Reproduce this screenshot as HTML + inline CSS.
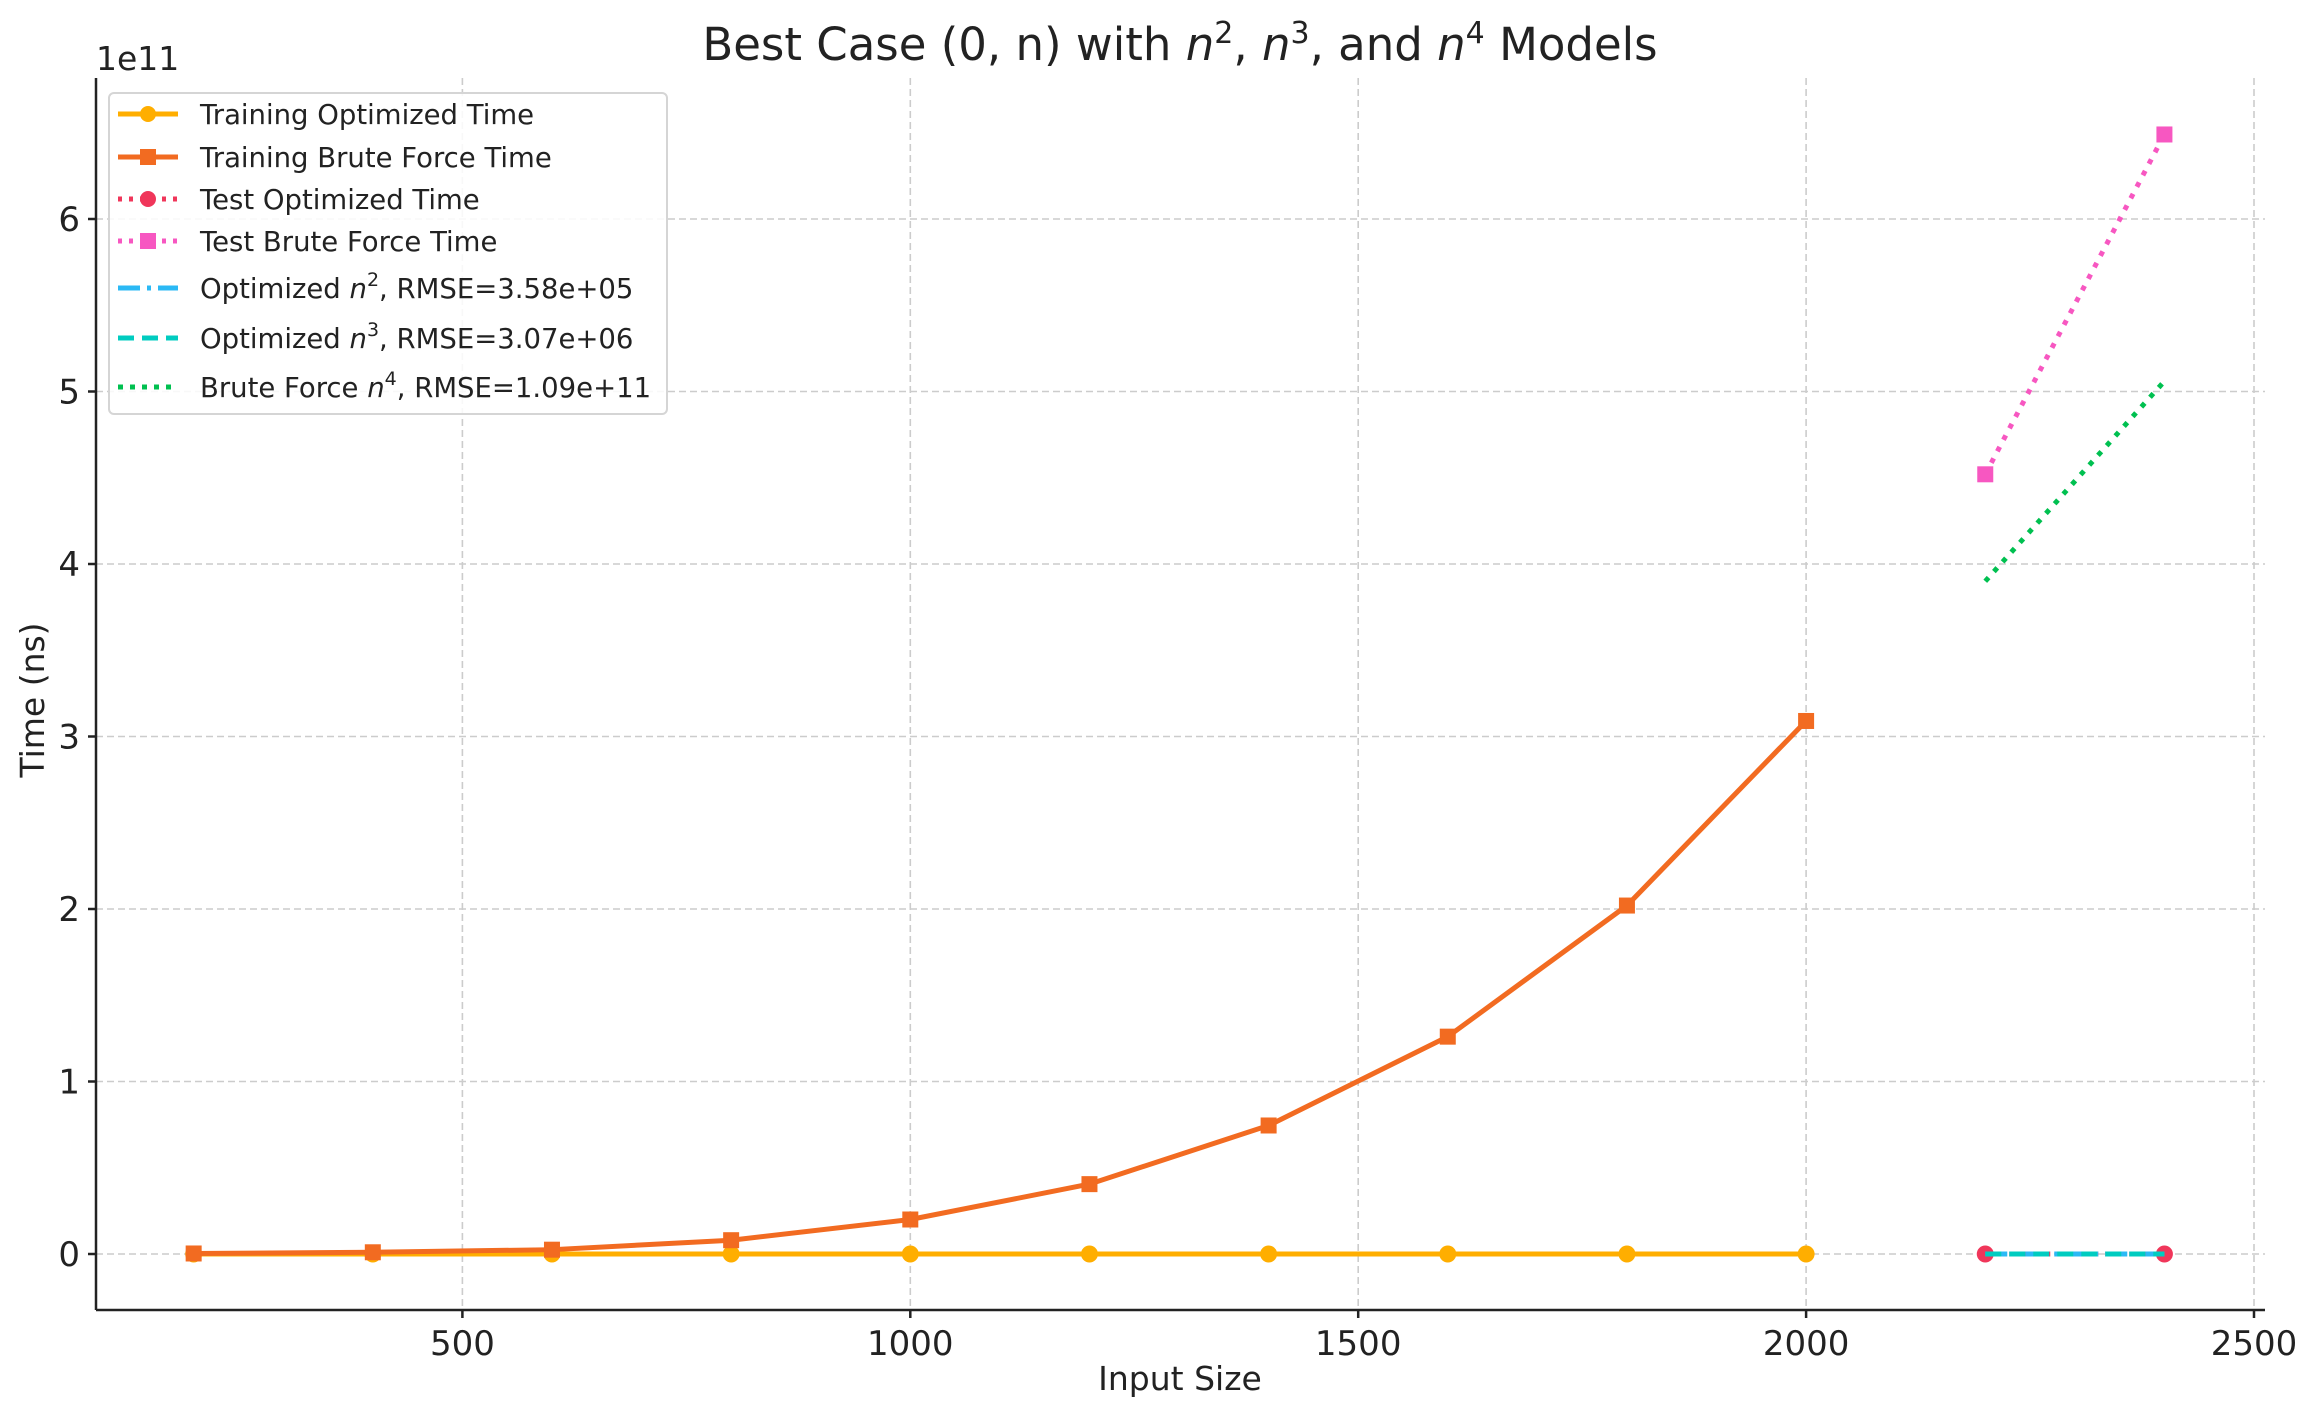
<!DOCTYPE html>
<html><head><meta charset="utf-8"><style>
body{margin:0;background:#fff}
svg text{font-family:"DejaVu Sans","Liberation Sans",sans-serif;fill:#222}
</style></head><body>
<svg id="chart" width="2318" height="1417" viewBox="0 0 2318 1417" xmlns="http://www.w3.org/2000/svg">
<rect width="2318" height="1417" fill="#fff"/>
<g id="grid"></g>
<g id="series"></g>
<g id="axes"></g>
<text x="1180" y="60" text-anchor="middle" font-size="45">Best Case (0, n) with <tspan font-style="italic">n</tspan><tspan font-size="30" dy="-17">2</tspan><tspan dy="17">, </tspan><tspan font-style="italic">n</tspan><tspan font-size="30" dy="-17">3</tspan><tspan dy="17">, and </tspan><tspan font-style="italic">n</tspan><tspan font-size="30" dy="-17">4</tspan><tspan dy="17"> Models</tspan></text>
<text x="96" y="70" font-size="33">1e11</text>
<text x="1180" y="1390" text-anchor="middle" font-size="33">Input Size</text>
<text transform="translate(44,700) rotate(-90)" text-anchor="middle" font-size="33">Time (ns)</text>
<g id="legend"></g>
</svg>
<script>
const trainX=[200,400,600,800,1000,1200,1400,1600,1800,2000];
const trainOpt=[0,0,0,0,0,0,0,0,0,0];
const trainBrute=[0.003,0.01,0.025,0.08,0.2,0.405,0.745,1.26,2.02,3.09];
const testX=[2200,2400];
const testOpt=[0,0];
const testBrute=[4.52,6.49];
const fitN2=[0,0];
const fitN3=[0,0];
const fitN4=[3.90,5.06];
const xTicks=[500,1000,1500,2000,2500];
const yTicks=[0,1,2,3,4,5,6];
const legendLabels=["Training Optimized Time","Training Brute Force Time","Test Optimized Time","Test Brute Force Time","Optimized n2, RMSE=3.58e+05","Optimized n3, RMSE=3.07e+06","Brute Force n4, RMSE=1.09e+11"];

const L=96,R=2265,T=78,B=1310;
const xs=v=>14.5+0.8958*v;
const ys=v=>1254-172.5*v;
const NS="http://www.w3.org/2000/svg";
function mk(tag,attrs,parent){const e=document.createElementNS(NS,tag);for(const k in attrs)e.setAttribute(k,attrs[k]);parent.appendChild(e);return e;}
const grid=document.getElementById('grid'),ser=document.getElementById('series'),ax=document.getElementById('axes'),leg=document.getElementById('legend');
const gs={stroke:'#cccccc','stroke-width':1.6,'stroke-dasharray':'7,4'};
xTicks.forEach(t=>{
 const l=mk('line',Object.assign({x1:xs(t),x2:xs(t),y1:T,y2:B},gs),grid);
 
 
 const k=mk('line',{x1:xs(t),x2:xs(t),y1:B,y2:B+8,stroke:'#222','stroke-width':2.5},ax);
 
 
 const tx=mk('text',{x:xs(t),y:B+45,'text-anchor':'middle','font-size':34},ax);tx.textContent=t;
 
 
});
yTicks.forEach(t=>{
 const l=mk('line',Object.assign({x1:L,x2:R,y1:ys(t),y2:ys(t)},gs),grid);
 
 
 const k=mk('line',{x1:L-8,x2:L,y1:ys(t),y2:ys(t),stroke:'#222','stroke-width':2.5},ax);
 
 
 const tx=mk('text',{x:L-16,y:ys(t)+12,'text-anchor':'end','font-size':34},ax);tx.textContent=t;
 
 
});
const la=mk('line',{x1:L,x2:L,y1:T,y2:B,stroke:'#222','stroke-width':2.5},ax);


const ba=mk('line',{x1:L,x2:R,y1:B,y2:B,stroke:'#222','stroke-width':2.5},ax);



function line(xv,yv,color,dash,name,w){
 const p=mk('polyline',{points:xv.map((x,i)=>xs(x)+','+ys(yv[i])).join(' '),fill:'none',stroke:color,'stroke-width':w||5,'stroke-dasharray':dash||'none'},ser);
 
 
}
function markers(xv,yv,color,shape,name){
 xv.forEach((x,i)=>{
  let m;
  if(shape==='c')m=mk('circle',{cx:xs(x),cy:ys(yv[i]),r:8.5,fill:color},ser);
  else m=mk('rect',{x:xs(x)-8,y:ys(yv[i])-8,width:16,height:16,fill:color},ser);
  
  
 });
}
const C={opt:'#ffae00',brute:'#f26b21',topt:'#f0365a',tbrute:'#f757c1',n2:'#2bb9f5',n3:'#00ccc0',n4:'#00c050'};
line(trainX,trainOpt,C.opt,null,'training-optimized-line');
markers(trainX,trainOpt,C.opt,'c','training-optimized-point');
line(trainX,trainBrute,C.brute,null,'training-brute-line');
markers(trainX,trainBrute,C.brute,'s','training-brute-point');
line(testX,testOpt,C.topt,'5,7','test-optimized-line');
markers(testX,testOpt,C.topt,'c','test-optimized-point');
line(testX,testBrute,C.tbrute,'5,8','test-brute-line',5);
markers(testX,testBrute,C.tbrute,'s','test-brute-point');
line(testX,fitN2,C.n2,'22,7,4,7','fit-n2-line');
line(testX,fitN3,C.n3,'16,8','fit-n3-line');
line(testX,fitN4,C.n4,'5,8','fit-n4-line',5);

const lb=mk('rect',{x:109,y:93,width:558,height:321,rx:5,fill:'#fff','fill-opacity':0.85,stroke:'#d5d5d5','stroke-width':2},leg);


const rowsY=[114,157,199,241,288,338,387];
const styles=[[C.opt,null,'c'],[C.brute,null,'s'],[C.topt,'4,7','c'],[C.tbrute,'4,7','s'],[C.n2,'22,7,4,7',null],[C.n3,'16,8',null],[C.n4,'5,7',null]];
rowsY.forEach((y,i)=>{
 const [c,d,m]=styles[i];
 const hl=mk('line',{x1:118,x2:178,y1:y,y2:y,stroke:c,'stroke-width':5,'stroke-dasharray':d||'none'},leg);
 
 
 if(m==='c'){mk('circle',{cx:148,cy:y,r:8,fill:c},leg);}
 else if(m==='s'){mk('rect',{x:140,y:y-8,width:16,height:16,fill:c},leg);}
 const t=mk('text',{x:200,y:y+10,'font-size':27.5},leg);
 const lab=legendLabels[i];
 const mm=lab.match(/^(.*?)n(\d)(, .*)$/);
 if(mm){
  t.appendChild(document.createTextNode(mm[1]));
  const a=mk('tspan',{'font-style':'italic'},t);a.textContent='n';
  const b=mk('tspan',{'font-size':19,dy:-12},t);b.textContent=mm[2];
  const c2=mk('tspan',{dy:12},t);c2.textContent=mm[3];
 } else t.textContent=lab;
 
 
});
</script>
</body></html>
